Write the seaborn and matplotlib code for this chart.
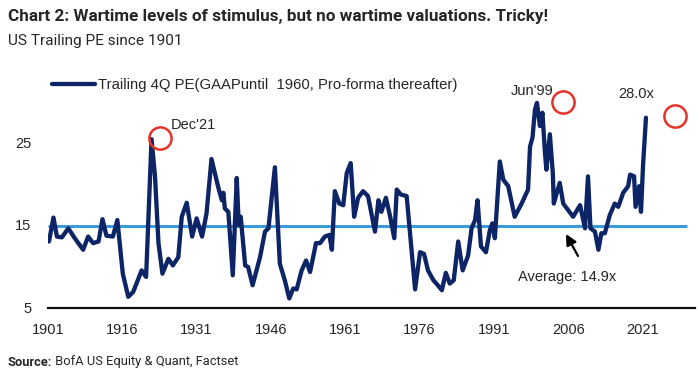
import matplotlib
matplotlib.use("Agg")
import matplotlib.pyplot as plt
import seaborn as sns
import pandas as pd

# ---- data ----
years = [1901.2, 1902.1, 1902.8, 1903.8, 1905.1, 1906.4, 1908.1, 1909.1, 1910.1, 1911.2,
         1912.0, 1912.8, 1914.1, 1915.0, 1916.1, 1917.2, 1918.2, 1919.9, 1920.8, 1921.9,
         1922.6, 1923.3, 1924.1, 1925.3, 1926.2, 1927.3, 1928.0, 1929.0, 1930.1, 1931.0,
         1932.1, 1933.0, 1934.0, 1935.4, 1936.1, 1936.4, 1936.7, 1937.4, 1938.3, 1939.1,
         1939.5, 1939.9, 1940.8, 1941.4, 1942.3, 1943.8, 1944.8, 1945.5, 1946.8, 1947.8,
         1948.8, 1949.7, 1950.5, 1951.2, 1952.2, 1953.1, 1953.9, 1955.1, 1955.9, 1956.9,
         1957.8, 1958.3, 1958.9, 1959.8, 1960.6, 1961.3, 1962.1, 1962.8, 1963.6, 1964.6,
         1965.6, 1967.0, 1967.7, 1968.3, 1969.2, 1970.0, 1970.9, 1971.4, 1972.2, 1973.4,
         1973.9, 1975.1, 1976.1, 1976.9, 1977.7, 1978.8, 1979.4, 1980.5, 1981.3, 1982.1,
         1982.9, 1983.8, 1984.7, 1985.8, 1986.5, 1987.2, 1987.7, 1988.4, 1989.4, 1990.2,
         1990.7, 1991.2, 1992.2, 1992.9, 1993.9, 1995.2, 1996.6, 1997.9, 1998.3, 1998.8,
         1999.3, 1999.7, 2000.3, 2000.8, 2001.3, 2001.6, 2002.3, 2002.9, 2003.1, 2003.7,
         2004.3, 2005.0, 2006.0, 2007.0, 2008.4, 2009.4, 2010.0, 2010.5, 2011.4, 2012.1,
         2012.7, 2013.4, 2014.4, 2015.4, 2016.1, 2017.1, 2018.1, 2018.5, 2019.3, 2019.6,
         2020.3, 2020.7, 2021.1, 2021.7]
pe = [13.0, 15.9, 13.6, 13.5, 14.6, 13.4, 12.0, 13.6, 12.8, 13.0,
      15.7, 13.7, 13.6, 15.6, 9.1, 6.3, 6.9, 9.5, 8.7, 25.4,
      20.9, 12.8, 9.1, 10.9, 10.1, 11.1, 16.0, 17.7, 13.6, 15.8,
      13.6, 16.4, 23.0, 19.5, 18.0, 18.9, 17.0, 16.6, 8.9, 20.7,
      15.0, 16.0, 10.1, 9.9, 7.7, 11.1, 14.2, 14.6, 22.0, 10.3,
      8.3, 6.1, 7.3, 7.2, 9.5, 10.7, 9.3, 12.8, 12.8, 13.6,
      13.8, 12.0, 19.1, 17.6, 17.4, 21.3, 22.5, 16.0, 18.3, 19.1,
      18.5, 14.2, 18.0, 16.6, 18.3, 16.2, 13.4, 19.3, 18.7, 18.5,
      15.2, 7.2, 11.7, 11.5, 9.5, 8.3, 7.9, 7.1, 9.2, 7.9,
      8.3, 13.0, 9.5, 11.3, 14.6, 15.6, 18.0, 12.4, 11.7, 14.4,
      15.2, 13.4, 22.7, 20.5, 19.7, 16.0, 17.6, 19.3, 24.5, 25.6,
      29.0, 29.8, 27.0, 28.6, 23.9, 21.7, 26.0, 21.3, 17.6, 18.9,
      20.1, 17.6, 16.8, 16.0, 17.4, 14.6, 20.9, 14.6, 14.2, 12.0,
      14.0, 14.0, 16.2, 17.6, 17.2, 18.9, 19.7, 21.1, 20.9, 17.2,
      19.7, 16.6, 22.1, 28.0]
average_pe = 14.9
x_ticks = [1901, 1916, 1931, 1946, 1961, 1976, 1991, 2006, 2021]
y_ticks = [5, 15, 25]
series_label = "Trailing 4Q PE(GAAPuntil  1960, Pro-forma thereafter)"
title = "Chart 2: Wartime levels of stimulus, but no wartime valuations. Tricky!"
subtitle = "US Trailing PE since 1901"
source_rest = " BofA US Equity & Quant, Factset"
# annotation circles (anchor year, anchor value)
circles_year = [1923.6, 2004.9, 2027.5]
circles_val = [25.6, 29.9, 28.2]

df = pd.DataFrame({"year": years, "pe": pe})

sns.set_style("white")
plt.rcParams["font.family"] = ["Liberation Sans", "DejaVu Sans"]

W, H = 700, 385
fig = plt.figure(figsize=(7, 3.85), dpi=100)

def fx(px):
    return px / W

def fy(py):
    return 1 - py / H

NAVY = "#0d2566"
LBLUE = "#3b9ad8"
RED = "#e5332a"

x0, x1 = 1901, 2031.6
y0, y1 = 5, 33
left_px, right_px = 48, 695
bottom_px = 307.5
top_px = bottom_px - (y1 - y0) * 8.25
ax = fig.add_axes([fx(left_px), fy(bottom_px), (right_px - left_px) / W, (bottom_px - top_px) / H])

ax.hlines(average_pe, 1901, 2030, color=LBLUE, lw=2.2, zorder=2)
sns.lineplot(data=df, x="year", y="pe", ax=ax, color=NAVY, lw=3.1, label=series_label,
             zorder=3, solid_joinstyle="round")

ax.set_xlim(x0, x1)
ax.set_ylim(y0, y1)
ax.set_xticks(x_ticks)
ax.set_yticks(y_ticks)
ax.set_xticklabels([str(t) for t in x_ticks], fontsize=10.5)
ax.set_yticklabels([str(t) for t in y_ticks], fontsize=10.5)
ax.tick_params(axis="both", length=0)
ax.tick_params(axis="x", pad=11)
ax.tick_params(axis="y", pad=12)
ax.set_xlabel("")
ax.set_ylabel("")
for s in ["top", "right", "left"]:
    ax.spines[s].set_visible(False)
ax.spines["bottom"].set_color("#111111")
ax.spines["bottom"].set_linewidth(1.6)
ax.grid(False)

leg = ax.legend(loc="center left", bbox_to_anchor=(fx(52), fy(85)), bbox_transform=fig.transFigure,
                frameon=False, fontsize=10.7, handlelength=2.9, handletextpad=0.2,
                borderpad=0, borderaxespad=0)

# circles
ax.plot(circles_year, circles_val, linestyle="none", marker="o", markersize=16,
        markerfacecolor="none", markeredgecolor=RED, markeredgewidth=1.8, zorder=4,
        clip_on=False)

# annotation texts
fig.text(fx(171), fy(125), "Dec'21", fontsize=10.5, ha="left", va="center")
fig.text(fx(532), fy(91), "Jun'99", fontsize=10.5, ha="center", va="center")
fig.text(fx(636), fy(94), "28.0x", fontsize=10.5, ha="center", va="center")
fig.text(fx(567), fy(277), "Average: 14.9x", fontsize=10.5, ha="center", va="center")

def px2data(px, py):
    return (x0 + (px - left_px) / (right_px - left_px) * (x1 - x0),
            y0 + (bottom_px - py) / 8.25)

ax.annotate("", xy=px2data(566, 234), xytext=px2data(578, 256),
            arrowprops=dict(arrowstyle="-|>", color="black", lw=1.6, mutation_scale=16,
                            shrinkA=0, shrinkB=0))

# titles (condensed look approximated with Roboto)
TFONT = ["Roboto", "Liberation Sans", "DejaVu Sans"]
t_title = fig.text(fx(8), fy(17), title, fontsize=12.5, fontweight="bold", family=TFONT,
                   ha="left", va="center")
t_sub = fig.text(fx(8), fy(41), subtitle, fontsize=11.5, family=TFONT, ha="left", va="center")

t1 = fig.text(fx(8), fy(362), "Source:", fontsize=9.3, fontweight="bold", family=TFONT,
              ha="left", va="center")
fig.canvas.draw()
r = fig.canvas.get_renderer()
# shrink title / subtitle to the reference widths
for t, target in [(t_title, 540), (t_sub, 175)]:
    w = t.get_window_extent(r).width
    t.set_fontsize(t.get_fontsize() * target / w)
bb = t1.get_window_extent(r)
fig.text(bb.x1 / W, fy(362), source_rest, fontsize=9.3, family=TFONT, ha="left", va="center")

fig.savefig("out.png", dpi=100)
